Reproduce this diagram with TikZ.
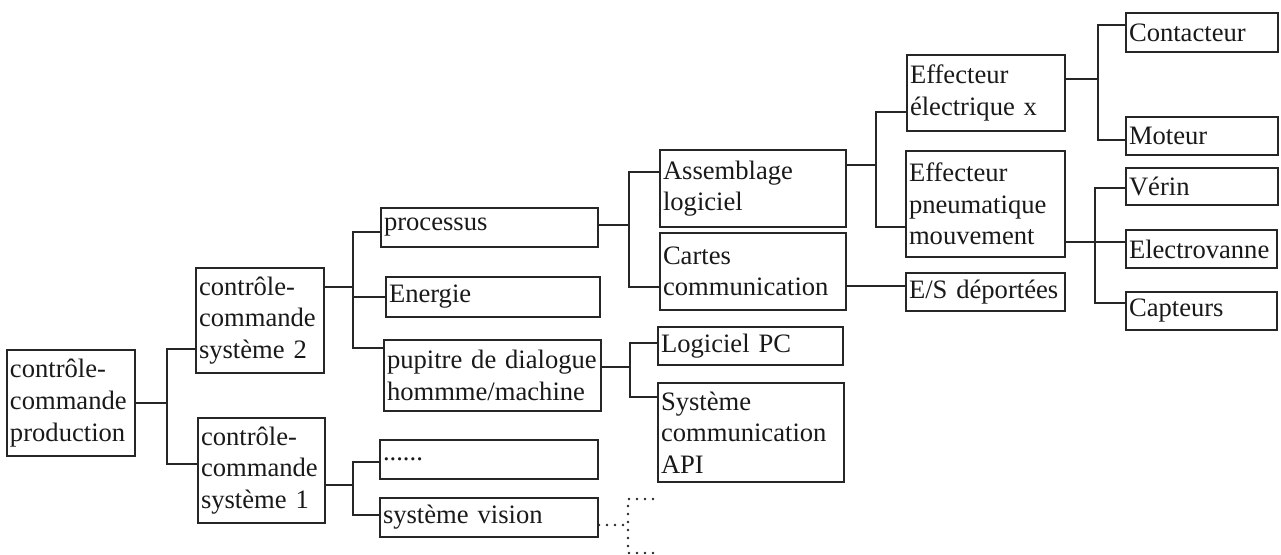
\documentclass[tikz,border=0pt]{standalone}
\usepackage{fontspec}
\setmainfont{Liberation Serif}
\tikzset{
  bx/.style={draw=black!85, line width=0.9pt, rectangle, inner xsep=1.5pt, inner ysep=0.5pt, align=left,
             font=\fontsize{13.3}{15.8}\selectfont, text=black!90},
  cn/.style={draw=black!85, line width=0.75pt},
  dotline/.style={draw=black!85, line width=1.4pt, line cap=round, dash pattern=on 0pt off 4pt}
}
\newcommand\bx[6]{%
  \pgfmathsetmacro\bw{(#4-#2)*0.5}%
  \pgfmathsetmacro\bh{(#5-#3)*0.5}%
  \pgfmathsetmacro\tw{\bw-3}%
  \node[bx, minimum width=\bw pt, minimum height=\bh pt, text width=\tw pt] (#1) at ({(#2+#4)/2},{(#3+#5)/2}) {#6};}
\begin{document}
\begin{tikzpicture}[x=0.5pt,y=-0.5pt]
\useasboundingbox (0,0) rectangle (1281,555);
% boxes
\bx{prod}{7}{350}{135}{456}{contrôle-\\commande\\production}
\bx{sys2}{196}{268}{324}{373}{contrôle-\\commande\\système 2}
\bx{sys1}{198}{418}{325}{523}{contrôle-\\commande\\système 1}
\bx{proc}{381}{208}{598}{247}{processus}
\bx{ener}{386}{277}{600}{317}{Energie}
\bx{pup}{384}{340}{601}{411}{\mbox{pupitre de dialogue}\\hommme/machine}
\bx{dots}{380}{440}{598}{479}{......}
\bx{vis}{380}{498}{598}{537}{système vision}
\bx{ass}{660}{150}{846}{227}{Assemblage\\logiciel}
\bx{cart}{660}{233}{846}{310}{Cartes\\communication}
\bx{lpc}{658}{327}{843}{365}{Logiciel PC}
\bx{api}{658}{383}{844}{482}{Système\\communication\\API}
\bx{eel}{907}{55}{1065}{131}{Effecteur\\électrique x}
\bx{epn}{906}{151}{1065}{257}{Effecteur\\pneumatique\\mouvement}
\bx{es}{906}{273}{1065}{311}{E/S déportées}
\bx{cont}{1126}{13}{1278}{52}{Contacteur}
\bx{mot}{1126}{117}{1278}{155}{Moteur}
\bx{ver}{1126}{168}{1278}{205}{Vérin}
\bx{elv}{1126}{230}{1277}{268}{Electrovanne}
\bx{cap}{1126}{292}{1277}{330}{Capteurs}
% junctions
\coordinate (j1) at (167,403);
\coordinate (j2) at (353,287);
\coordinate (j3) at (353,485);
\coordinate (j4) at (629,225);
\coordinate (j5) at (630,367);
\coordinate (j6) at (876,165);
\coordinate (j7) at (1098,79);
\coordinate (j8) at (1095,242);
% connectors
\draw[cn] (prod.east |- j1) -- (j1);
\draw[cn] (sys2.west |- 0,349) -| (j1) |- (sys1.west |- 0,464);
\draw[cn] (sys2.east |- j2) -- (j2);
\draw[cn] (proc.west |- 0,232) -| (j2) |- (pup.west |- 0,348);
\draw[cn] (ener.west) -- (ener.west -| j2);
\draw[cn] (sys1.east |- j3) -- (j3);
\draw[cn] (dots.west |- 0,462) -| (j3) |- (vis.west |- 0,515);
\draw[cn] (proc.east |- j4) -- (j4);
\draw[cn] (ass.west |- 0,172) -| (j4) |- (cart.west |- 0,287);
\draw[cn] (pup.east |- j5) -- (j5);
\draw[cn] (lpc.west |- 0,343) -| (j5) |- (api.west |- 0,397);
\draw[cn] (ass.east |- j6) -- (j6);
\draw[cn] (eel.west |- 0,112) -| (j6) |- (epn.west |- 0,227);
\draw[cn] (cart.east |- 0,286) -- (es.west |- 0,286);
\draw[cn] (eel.east |- j7) -- (j7);
\draw[cn] (cont.west |- 0,25) -| (j7) |- (mot.west |- 0,140);
\draw[cn] (epn.east |- j8) -- (j8);
\draw[cn] (ver.west |- 0,188) -| (j8) |- (cap.west |- 0,303);
\draw[cn] (elv.west |- j8) -- (j8);
% dotted continuation
\coordinate (d1) at (628,525);
\coordinate (d2) at (628,499);
\coordinate (d3) at (628,553);
\coordinate (d4) at (653,499);
\coordinate (d5) at (653,553);
\draw[dotline] (vis.east |- d1) -- (d1);
\draw[dotline] (d4) -- (d2) -- (d3) -- (d5);
\end{tikzpicture}
\end{document}
